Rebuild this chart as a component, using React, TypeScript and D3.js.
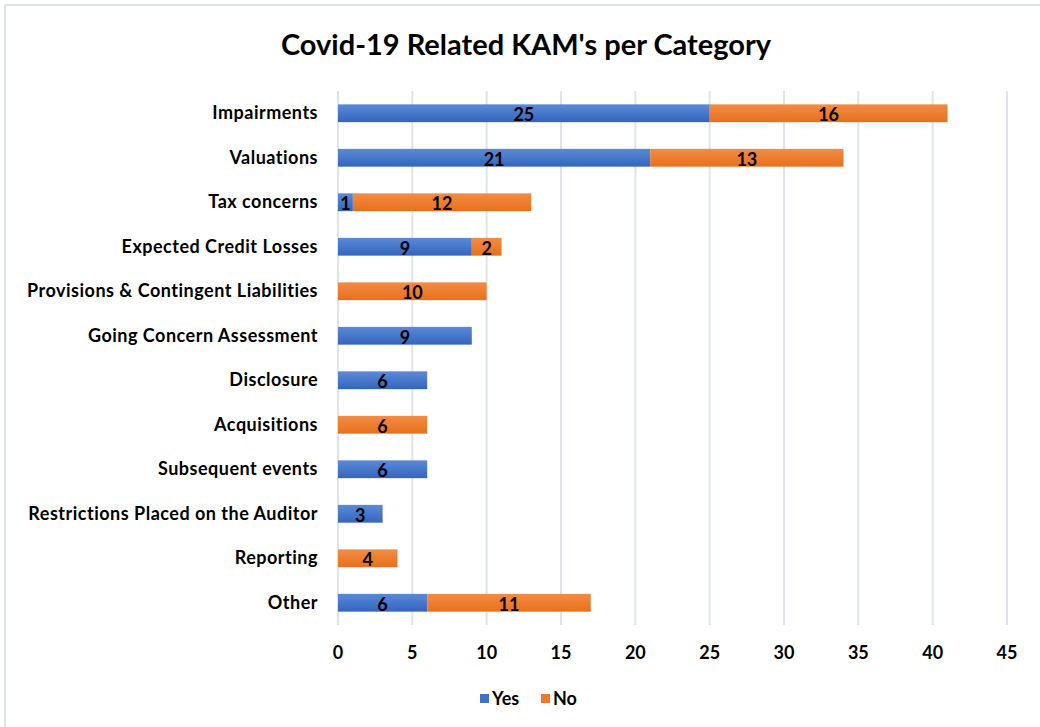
import React from 'react';
import * as d3 from 'd3';

const categories = [
  'Impairments',
  'Valuations',
  'Tax concerns',
  'Expected Credit Losses',
  'Provisions & Contingent Liabilities',
  'Going Concern Assessment',
  'Disclosure',
  'Acquisitions',
  'Subsequent events',
  'Restrictions Placed on the Auditor',
  'Reporting',
  'Other',
];
const yesValues = [25, 21, 1, 9, 0, 9, 6, 0, 6, 3, 0, 6];
const noValues = [16, 13, 12, 2, 10, 0, 0, 6, 0, 0, 4, 11];
const xTicks = [0, 5, 10, 15, 20, 25, 30, 35, 40, 45];
const seriesNames = ['Yes', 'No'];

const W = 1040;
const H = 727;
const FONT = 'Lato, "Open Sans", sans-serif';

export default function App() {
  const margin = { top: 91, right: 33, bottom: 102, left: 338 };
  const innerW = W - margin.left - margin.right;
  const innerH = H - margin.top - margin.bottom;

  const x = d3.scaleLinear().domain([0, 45]).range([0, innerW]);
  const y = d3.scaleBand().domain(categories).range([0, innerH]).paddingInner(0.6).paddingOuter(0.3);

  const rows = categories.map((c, i) => ({ cat: c, yes: yesValues[i], no: noValues[i] }));

  return (
    <svg width={W} height={H} style={{ position: 'absolute', left: 0, top: 0, background: '#fff' }}>
      <defs>
        <linearGradient id="gYes" x1="0" y1="0" x2="0" y2="1">
          <stop offset="0" stopColor="#5a8ad6" />
          <stop offset="1" stopColor="#3465bd" />
        </linearGradient>
        <linearGradient id="gNo" x1="0" y1="0" x2="0" y2="1">
          <stop offset="0" stopColor="#f28c45" />
          <stop offset="1" stopColor="#e8701c" />
        </linearGradient>
      </defs>
      <rect x={5} y={5} width={W + 10} height={H + 10} fill="#fff" stroke="#dde3ea" strokeWidth={2} />
      <text x={526} y={55} textAnchor="middle" fontFamily={FONT} fontWeight="bold" fontSize={29} fill="#000">
        Covid-19 Related KAM's per Category
      </text>
      <g transform={`translate(${margin.left},${margin.top})`}>
        {xTicks.map(t => (
          <line key={t} x1={x(t)} x2={x(t)} y1={0} y2={innerH} stroke="#dfe4ec" strokeWidth={2} />
        ))}
        {rows.map(r => {
          const yy = y(r.cat)!;
          const bh = y.bandwidth();
          return (
            <g key={r.cat}>
              {r.yes > 0 && (
                <rect x={x(0)} y={yy} width={x(r.yes) - x(0)} height={bh} fill="url(#gYes)" />
              )}
              {r.no > 0 && (
                <rect x={x(r.yes)} y={yy} width={x(r.yes + r.no) - x(r.yes)} height={bh} fill="url(#gNo)" />
              )}
              {r.yes > 0 && (
                <text x={x(r.yes / 2)} y={yy + bh / 2 + 8} textAnchor="middle" fontFamily={FONT} fontWeight="bold" fontSize={18}>
                  {r.yes}
                </text>
              )}
              {r.no > 0 && (
                <text x={x(r.yes + r.no / 2)} y={yy + bh / 2 + 8} textAnchor="middle" fontFamily={FONT} fontWeight="bold" fontSize={18}>
                  {r.no}
                </text>
              )}
              <text x={-20} y={yy + bh / 2 + 6} textAnchor="end" fontFamily={FONT} fontWeight="bold" fontSize={18} letterSpacing={0.5}>
                {r.cat}
              </text>
            </g>
          );
        })}
        {xTicks.map(t => (
          <text key={t} x={x(t)} y={innerH + 34} textAnchor="middle" fontFamily={FONT} fontWeight="bold" fontSize={18}>
            {t}
          </text>
        ))}
      </g>
      <g transform="translate(480,690)">
        {seriesNames.map((s, i) => (
          <g key={s} transform={`translate(${i * 61},0)`}>
            <rect x={0} y={4} width={9} height={9} fill={i === 0 ? '#3f72c7' : '#ec7a2c'} />
            <text x={12} y={15} fontFamily={FONT} fontWeight="bold" fontSize={18}>{s}</text>
          </g>
        ))}
      </g>
    </svg>
  );
}
